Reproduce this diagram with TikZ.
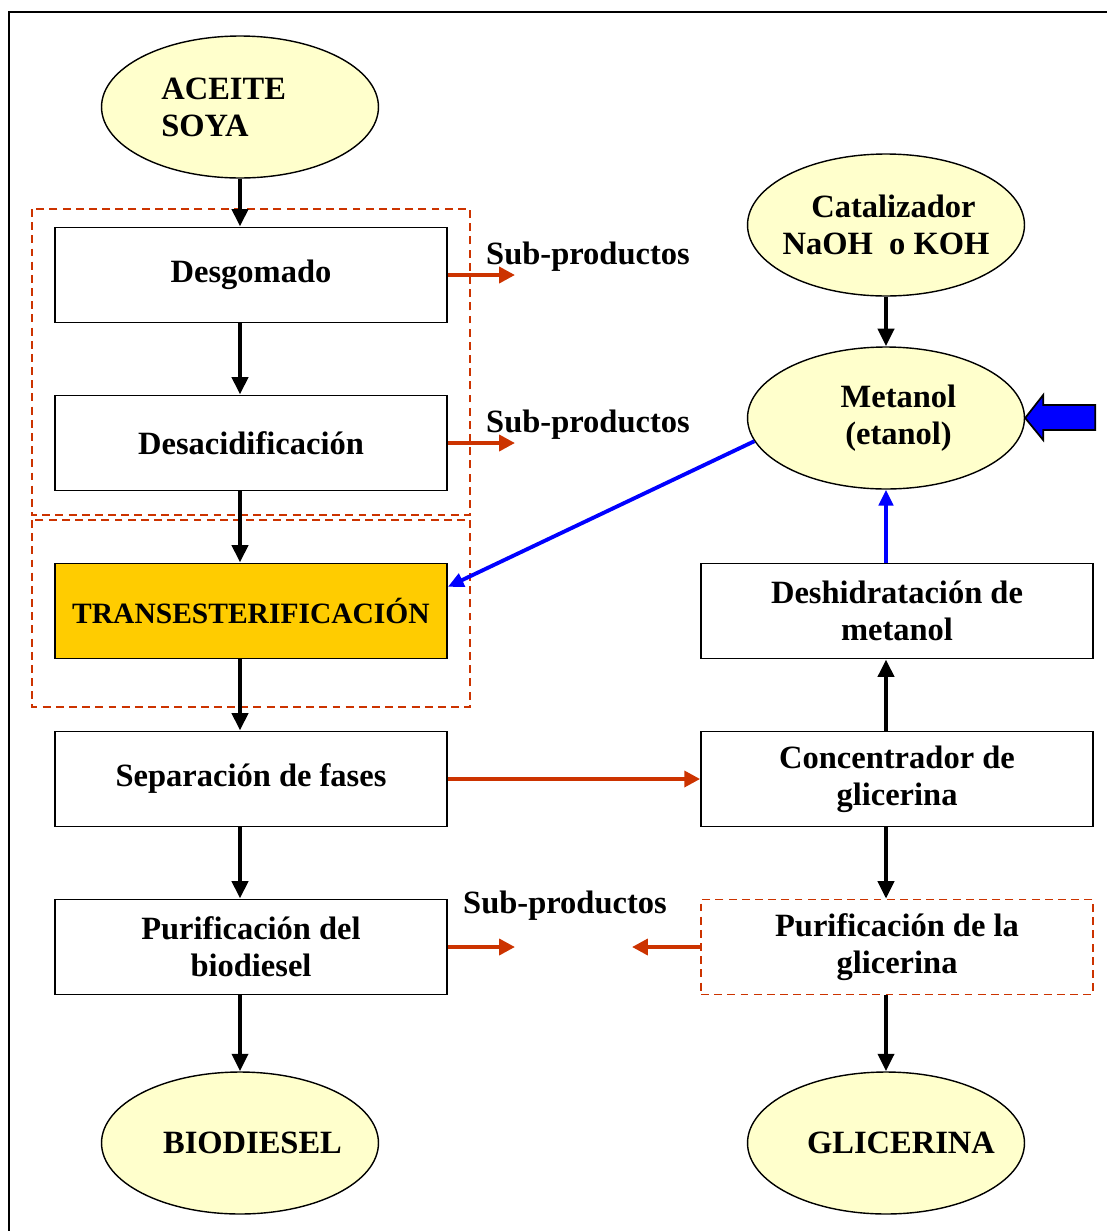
\documentclass[tikz,border=0pt]{standalone}
\usepackage{fontspec}
\setmainfont{Liberation Serif}
\usetikzlibrary{shapes.geometric,arrows.meta}

\definecolor{crema}{HTML}{FFFFCC}
\definecolor{oro}{HTML}{FFCC00}
\definecolor{naranja}{HTML}{CC3300}

\tikzset{
  texto/.style={font=\bfseries\fontsize{18.5}{21}\selectfont,align=center},
  paso/.style={texto,shape=rectangle,draw=black,line width=1pt,minimum width=7.84cm,minimum height=1.9cm,inner xsep=2pt},
  ovalo/.style={texto,shape=ellipse,draw=black,fill=crema,line width=0.8pt,minimum width=5.54cm,minimum height=2.84cm,inner xsep=-0.4cm,inner ysep=-0.3cm},
  grupo/.style={draw=naranja,line width=0.9pt,dash pattern=on 4.5pt off 3pt},
  flecha/.style={-{Triangle[length=10pt,width=9pt]},line width=2.8pt,black},
  salida/.style={-{Triangle[length=9pt,width=9pt]},line width=2.2pt,naranja},
  retorno/.style={-{Triangle[length=9pt,width=8pt]},line width=2.2pt,blue}
}

\begin{document}
\begin{tikzpicture}[x=0.02cm,y=-0.02cm]
    \useasboundingbox (0,0) rectangle (1106,1231);
    \draw[line width=1pt] (9,12) rectangle (1130,1260);

    % grupos
    \draw[grupo] (32,209) rectangle (470,515);
    \draw[grupo] (32,520) rectangle (470,707);

    % columna izquierda
    \node[ovalo,align=left] (aceite) at (240,107) {ACEITE\\SOYA\hspace*{1.4cm}};
    \node[paso] (desgomado) at (251,275) {Desgomado};
    \node[paso] (desacid) at (251,443) {Desacidificación};
    \node[paso,fill=oro,font=\bfseries\fontsize{16.8}{20}\selectfont] (trans) at (251,611) {TRANSESTERIFICACIÓN};
    \node[paso] (separacion) at (251,779) {Separación de fases};
    \node[paso] (purifbio) at (251,947) {Purificación del\\biodiesel};
    \node[ovalo] (biodiesel) at (240,1143) {\hspace*{0.5cm}BIODIESEL};

    % columna derecha
    \node[ovalo] (catalizador) at (886,225) {\hspace*{0.3cm}Catalizador\\NaOH~ o KOH};
    \node[ovalo] (metanol) at (886,418) {\hspace*{0.5cm}Metanol\\\hspace*{0.5cm}(etanol)};
    \node[paso] (deshidra) at (897,611) {Deshidratación de\\metanol};
    \node[paso] (concentrador) at (897,779) {Concentrador de\\glicerina};
    \node[paso,grupo,text=black] (purifgli) at (897,947) {Purificación de la\\glicerina};
    \node[ovalo] (glicerina) at (886,1143) {\hspace*{0.6cm}GLICERINA};

    % subproductos
    \coordinate (sub1) at (515,275);
    \coordinate (sub2) at (515,443);
    \coordinate (sub3) at (515,947);
    \coordinate (sub4) at (632,947);
    \node[texto] (etq1) at (588,257) {Sub-productos};
    \node[texto] (etq2) at (588,425) {Sub-productos};
    \node[texto] (etq3) at (565,906) {Sub-productos};

    \draw[flecha] (aceite) -- (aceite |- desgomado.north);
    \draw[flecha] (desgomado.south -| aceite) -- (desacid.north -| aceite);
    \draw[flecha] (desacid.south -| aceite) -- (trans.north -| aceite);
    \draw[flecha] (trans.south -| aceite) -- (separacion.north -| aceite);
    \draw[flecha] (separacion.south -| aceite) -- (purifbio.north -| aceite);
    \draw[flecha] (purifbio.south -| biodiesel) -- (biodiesel);

    \draw[flecha] (catalizador) -- (metanol);
    \draw[flecha] (concentrador.north -| metanol) -- (deshidra.south -| metanol);
    \draw[retorno] (deshidra.north -| metanol) -- (metanol);
    \draw[flecha] (concentrador.south -| metanol) -- (purifgli.north -| metanol);
    \draw[flecha] (purifgli.south -| glicerina) -- (glicerina);

    \draw[retorno] (metanol.190) -- (trans.7);
    \draw[line width=1pt,fill=blue] (metanol.east) -- ++(18,-23) -- ++(0,10) -- ++(52,0)
        -- ++(0,25) -- ++(-52,0) -- ++(0,10) -- cycle;

    \draw[salida] (desgomado.east) -- (sub1);
    \draw[salida] (desacid.east) -- (sub2);
    \draw[salida] (separacion.east) -- (concentrador.west);
    \draw[salida] (purifbio.east) -- (sub3);
    \draw[salida] (purifgli.west) -- (sub4);
\end{tikzpicture}
\end{document}
